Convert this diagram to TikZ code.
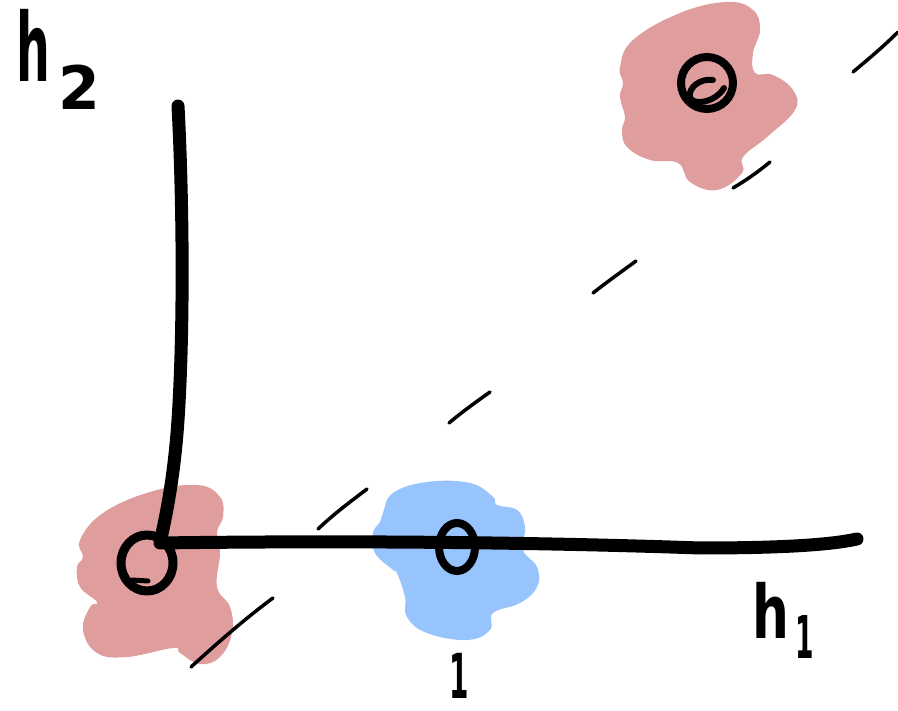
\documentclass[tikz,border=0pt]{standalone}
\usepackage{fontspec}
\setmainfont{DejaVu Sans}
\usepackage{graphicx}
\definecolor{pinkblob}{RGB}{224,157,157}
\definecolor{blueblob}{RGB}{151,196,252}
\begin{document}
\begin{tikzpicture}[x=1pt,y=-1pt,
  axisline/.style={line width=13pt,line cap=round,line join=round},
  dashseg/.style={line width=3.5pt,line cap=round},
  ring/.style={line width=9pt},
  lbl/.style={inner sep=0pt,font=\bfseries}]
\useasboundingbox (0,0) rectangle (898,711);
% blobs
\fill[pinkblob] plot[smooth cycle,tension=0.7] coordinates {(80,540) (103,513) (150,492) (197,485) (220,497) (223,517) (217,532) (220,553) (217,587) (230,607) (232,633) (220,657) (200,664) (180,653) (173,648) (127,657) (97,653) (83,630) (90,607) (97,602) (80,587) (77,567) (83,557)};
\fill[blueblob] plot[smooth cycle,tension=0.7] coordinates {(383,513) (393,493) (427,482) (470,483) (493,497) (497,505) (517,510) (525,527) (523,550) (537,567) (537,587) (520,603) (493,613) (490,630) (467,640) (427,633) (407,617) (405,597) (397,573) (393,570) (375,553) (373,533) (380,522)};
\fill[pinkblob] plot[smooth cycle,tension=0.7] coordinates {(620,67) (633,40) (680,13) (727,2) (753,10) (760,30) (753,53) (755,73) (773,75) (793,90) (795,110) (767,137) (743,157) (742,173) (717,190) (690,182) (678,163) (650,160) (627,147) (622,130) (625,117) (620,97) (623,83)};
% dashed diagonal
\draw[dashseg] (191,667) .. controls (225,636) and (250,615) .. (273,598);
\draw[dashseg] (318,529) .. controls (335,513) and (350,502) .. (367,489);
\draw[dashseg] (449,423) .. controls (462,412) and (476,402) .. (490,392);
\draw[dashseg] (593,293) .. controls (607,282) and (621,272) .. (636,261);
\draw[dashseg] (733,188) .. controls (745,181) and (758,172) .. (770,162);
\draw[dashseg] (853,72) .. controls (866,61) and (882,48) .. (898,32);
% axes
\coordinate (top) at (178,106);
\coordinate (origin) at (160,543);
\coordinate (right) at (857,539);
\draw[axisline] (top) .. controls (183,200) and (184,330) .. (178,420) .. controls (174,480) and (165,520) .. (origin)
  .. controls (300,541) and (500,541) .. (700,548) .. controls (780,548) and (830,545) .. (right);
% rings
\draw[ring] (147,563) ellipse[x radius=26,y radius=28];
\draw[line width=5pt,line cap=round] (132,580) -- (148,581);
\draw[line width=8pt] (457,547) ellipse[x radius=18,y radius=24];
\draw[line width=8pt] (707,83) ellipse[x radius=26,y radius=26];
\draw[line width=6pt,line cap=round] (713,80) .. controls (700,78) and (688,88) .. (690,97) .. controls (692,106) and (715,103) .. (724,88);
% labels
\node[lbl,anchor=base west] (h2) at (16,82) {\scalebox{0.5}[1]{\fontsize{95}{95}\selectfont h}\kern8pt\raisebox{-28pt}{\fontsize{60}{60}\selectfont 2}};
\node[lbl,anchor=base west] (h1) at (752,638) {\scalebox{0.7}[1]{\fontsize{74}{74}\selectfont h}\kern6pt\raisebox{-20pt}{\scalebox{0.45}[1]{\fontsize{59}{59}\selectfont 1}}};
\node[lbl,anchor=base west] (one) at (449,698) {\scalebox{0.45}[1]{\fontsize{62}{62}\selectfont 1}};
\end{tikzpicture}
\end{document}
